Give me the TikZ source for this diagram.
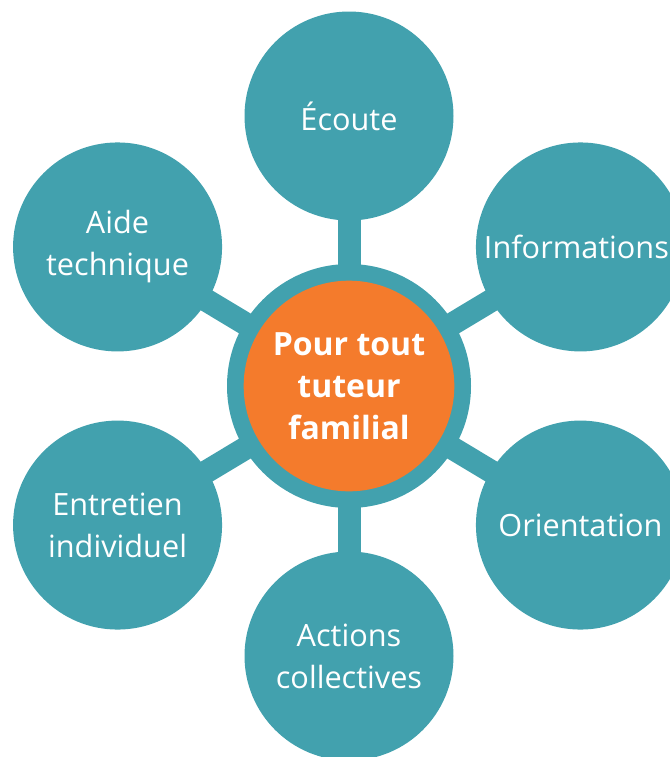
\documentclass[tikz,border=0pt]{standalone}
\usepackage{fontspec}
\setmainfont{Open Sans}
\definecolor{tuteal}{RGB}{66,161,174}
\definecolor{tuorange}{RGB}{244,123,44}

\begin{document}
\begin{tikzpicture}[x=0.75pt, y=-0.75pt,
    sat/.style={circle, fill=tuteal, text=white, minimum size=156.75pt, inner sep=0pt,
      align=center, font=\fontsize{23}{31.5}\selectfont},
    link/.style={line width=17.25pt, tuteal, shorten <=-3pt, shorten >=-3pt}]
    \useasboundingbox (0,0) rectangle (670,757);

    \node[circle, fill=tuteal, minimum size=183pt, inner sep=0pt] (hub) at (349,386) {};

    \foreach \a/\n/\lbl in {90/ecoute/{Écoute}, 31/infos/{\kern-6pt Informations}, -31/orient/{Orientation},
        -90/actions/{Actions\\collectives}, -149/entretien/{Entretien\\individuel}, 149/aide/{Aide\\technique}} {
        \node[sat] (\n) at ([shift={(\a:202.5pt)}]hub) {\lbl};
        \draw[link] (hub) -- (\n);}

    % orange centre on top of the ring
    \node[circle, fill=tuorange, text=white, minimum size=158pt, inner sep=0pt, align=center,
        font=\bfseries\fontsize{24}{31.5}\selectfont] (core) at (hub) {Pour tout\\tuteur\\familial};
\end{tikzpicture}
\end{document}
